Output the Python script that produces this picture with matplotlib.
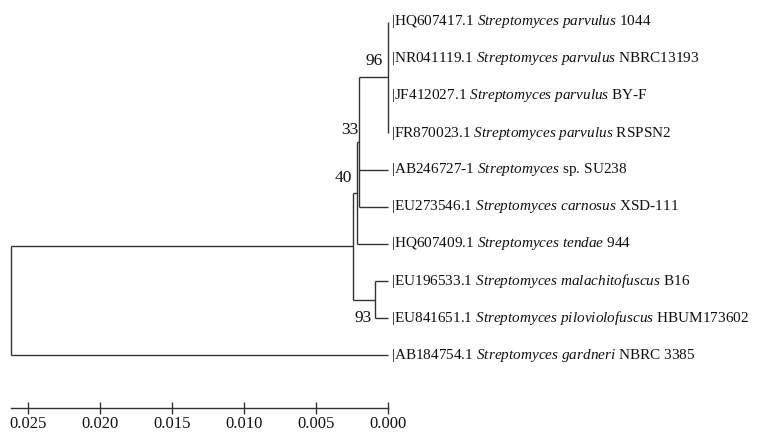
import matplotlib
matplotlib.use('Agg')
import matplotlib.pyplot as plt
from matplotlib.transforms import offset_copy

plt.rcParams['font.family'] = ['Liberation Serif', 'DejaVu Serif']
plt.rcParams['mathtext.fontset'] = 'custom'
plt.rcParams['mathtext.rm'] = 'Liberation Serif'
plt.rcParams['mathtext.it'] = 'Liberation Serif:italic'

# ---------------- data ----------------
accessions = ["HQ607417.1", "NR041119.1", "JF412027.1", "FR870023.1", "AB246727-1",
              "EU273546.1", "HQ607409.1", "EU196533.1", "EU841651.1", "AB184754.1"]
species = ["Streptomyces parvulus", "Streptomyces parvulus", "Streptomyces parvulus",
           "Streptomyces parvulus", "Streptomyces", "Streptomyces carnosus",
           "Streptomyces tendae", "Streptomyces malachitofuscus",
           "Streptomyces piloviolofuscus", "Streptomyces gardneri"]
strains = ["1044", "NBRC13193", "BY-F", "RSPSN2", "sp. SU238", "XSD-111", "944",
           "B16", "HBUM173602", "NBRC 3385"]

node_names = ["parvulus", "n33", "n40", "n93", "ingroup", "root"]
node_children = [[0, 1, 2, 3], ["parvulus", 4, 5], ["n33", 6], [7, 8],
                 ["n40", "n93"], ["ingroup", 9]]
node_heights = [0.0, 0.00198, 0.00215, 0.00088, 0.00243, 0.02615]
bootstrap = [96, 33, 40, 93, None, None]

scale_ticks = [0.025, 0.020, 0.015, 0.010, 0.005, 0.000]

# ---------------- style ----------------
W, H = 758, 434
line_color = '#333333'
boot_offsets = {"parvulus": (-5, 16), "n33": (-1, 12), "n40": (-5, 15), "n93": (-4, -18)}

fig = plt.figure(figsize=(W / 100, H / 100), dpi=100)
ax = fig.add_axes([0, 26 / H, 1, 408 / H])
ax.set_xlim(388 / 14400, (388 - W) / 14400)
ax.set_ylim((408 - 22) / 37, -22 / 37)

heights = dict(zip(node_names, node_heights))
children = dict(zip(node_names, node_children))
boots = dict(zip(node_names, bootstrap))
node_y = {}


def pos(c):
    if isinstance(c, int):
        return 0.0, float(c)
    if c not in node_y:
        draw(c)
    return heights[c], node_y[c]


def draw(n):
    h = heights[n]
    pts = [pos(c) for c in children[n]]
    ys = [p[1] for p in pts]
    for cx, cy in pts:
        ax.plot([h, cx], [cy, cy], color=line_color, lw=1.0, solid_capstyle='butt')
    ax.plot([h, h], [min(ys), max(ys)], color=line_color, lw=1.0, solid_capstyle='butt')
    node_y[n] = (min(ys) + max(ys)) / 2


draw("root")

for n in node_names:
    if boots[n] is not None:
        dx, dy = boot_offsets[n]
        tr = offset_copy(ax.transData, fig=fig, x=dx, y=dy, units='dots')
        ax.text(heights[n], node_y[n], str(boots[n]), transform=tr, ha='right',
                va='center', fontsize=12.5, color='#111111')

tr_lab = offset_copy(ax.transData, fig=fig, x=3, y=0, units='dots')
for i, (acc, sp, st) in enumerate(zip(accessions, species, strains)):
    sp_m = sp.replace(' ', r'\ ')
    label = "|" + acc + " $\\mathit{" + sp_m + "}$ " + st
    ax.text(0.0, i, label, transform=tr_lab, ha='left', va='center',
            fontsize=11, color='#111111')

# scale axis
for s in ['top', 'left', 'right']:
    ax.spines[s].set_visible(False)
ax.spines['bottom'].set_bounds(0.0, heights["root"])
ax.spines['bottom'].set_color(line_color)
ax.spines['bottom'].set_linewidth(1.0)
ax.set_yticks([])
ax.set_xticks(scale_ticks)
ax.set_xticklabels(["%.3f" % t for t in scale_ticks])
ax.tick_params(axis='x', direction='inout', length=8, width=1.0, colors=line_color,
               labelcolor='#111111', labelsize=12, pad=2)
ax.patch.set_alpha(0)

fig.savefig('out.png', dpi=100)
